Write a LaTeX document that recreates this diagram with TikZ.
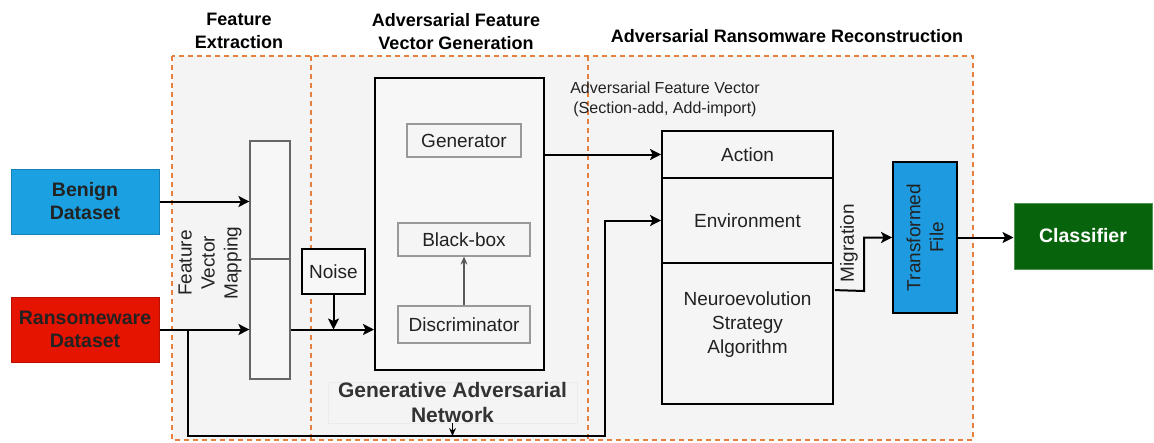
\documentclass[tikz,border=0pt]{standalone}
\usepackage{fontspec}
\setmainfont{Liberation Sans}
\usetikzlibrary{arrows.meta,calc}
\definecolor{panelbg}{HTML}{F4F4F4}
\definecolor{dashor}{HTML}{E5803F}
\definecolor{benignblue}{HTML}{1BA1E2}
\definecolor{ransred}{HTML}{E51400}
\definecolor{clsgreen}{HTML}{08640C}
\definecolor{tfblue}{HTML}{1E9BE0}
\definecolor{txtdark}{HTML}{222222}
\tikzset{
  arr/.style={line width=2pt,-{Stealth[length=11pt,width=11pt,inset=2.5pt]}},
  box/.style={draw,line width=1.8pt,minimum width=0pt,minimum height=0pt,inner sep=0pt},
  inbox/.style={draw=gray!80,line width=1.2pt,fill=white!96!black,text=txtdark,inner sep=0pt},
  body/.style={font=\fontsize{19}{24}\selectfont,align=center,text=txtdark},
  btxt/.style={font=\fontsize{19.5}{23}\selectfont\bfseries,align=center},
  ttl/.style={font=\fontsize{18}{23}\selectfont\bfseries,align=center,text=black},
  panel/.style={draw=dashor,line width=1.8pt,dash pattern=on 5pt off 4pt}
}
\begin{document}
\begin{tikzpicture}[x=1pt,y=-1pt]
\useasboundingbox (0,0) rectangle (1154,442);
% panel background and dashed frames
\fill[panelbg] (172,56) rectangle (973,440);
\draw[panel] (172,56) rectangle (973,440);
\draw[panel] (311,56) -- (311,440);
\draw[panel] (588,56) -- (588,440);
% titles
\node[ttl] (t1) at (239,31) {Feature\\Extraction};
\node[ttl] (t2) at (456,32) {Adversarial Feature\\Vector Generation};
\node[ttl] (t3) at (787,36) {Adversarial Ransomware Reconstruction};
% datasets
\node[box,draw=benignblue!80!black,line width=1pt,fill=benignblue,minimum width=148pt,minimum height=65pt,btxt,text=txtdark] (benign) at (85,201.5) {Benign\\Dataset};
\node[box,draw=ransred!80!black,line width=1pt,fill=ransred,minimum width=148pt,minimum height=65pt,btxt,text=txtdark] (ransom) at (85,329.5) {Ransomeware\\Dataset};
% feature vector mapping column
\node[draw=gray!80!black,line width=1.2pt,fill=white!97!black,minimum width=40pt,minimum height=238pt,inner sep=0pt] (fvm) at (270,260) {};
\draw[gray!80!black,line width=1.2pt] (fvm.west |- 0,259) -- (fvm.east |- 0,259);
\node[body,rotate=90,font=\fontsize{19}{23}\selectfont] (fvmlbl) at (210,263) {Feature\\Vector\\Mapping};
% noise
\node[box,fill=white!97!black,minimum width=63pt,minimum height=45pt,body] (noise) at (333.5,271.5) {Noise};
% GAN
\node[box,line width=2pt,fill=white!97!black,minimum width=169pt,minimum height=292pt] (gan) at (459.5,224) {};
\node[inbox,minimum width=114pt,minimum height=33pt,body] (gen) at (464,140.5) {Generator};
\node[inbox,minimum width=132pt,minimum height=33pt,body] (bb) at (464,239.5) {Black-box};
\node[inbox,minimum width=132pt,minimum height=37pt,body] (disc) at (464,324.5) {Discriminator};
\draw[gray!70!black,line width=1.2pt,-{Stealth[length=8pt,width=7pt]}] (disc.north) -- (bb.south);
\node[draw=black!8,line width=0.8pt,minimum width=249pt,minimum height=41pt,inner sep=0pt,font=\fontsize{21}{25}\selectfont\bfseries,align=center,text=black!80] (ganlbl) at (452.5,402.5) {Generative Adversarial\\Network};
% reconstruction stack
\node[box,fill=white!96!black,minimum width=171pt,minimum height=47pt,body] (action) at (747.5,154.5) {Action};
\node[box,fill=white!96!black,minimum width=171pt,minimum height=85pt,body] (env) at (747.5,220.5) {Environment};
\node[box,fill=white!96!black,minimum width=171pt,minimum height=141pt,body] (nsa) at (747.5,333.5) {};
\node[body,anchor=north] (nsatxt) at (747.5,288) {Neuroevolution\\Strategy\\Algorithm};
\node[font=\fontsize{16}{20}\selectfont,align=center,text=txtdark] (afv) at (665,99) {Adversarial Feature Vector\\(Section-add, Add-import)};
% transformed file and classifier
\node[box,line width=1.8pt,fill=tfblue,minimum width=64pt,minimum height=151pt] (tf) at (925,237.5) {};
\node[body,rotate=90,font=\fontsize{19}{23}\selectfont] (tftxt) at (925,237.5) {Transformed\\File};
\node[box,draw=clsgreen!70!white,line width=1pt,fill=clsgreen,minimum width=138pt,minimum height=66pt,btxt,text=white] (cls) at (1083,236) {Classifier};
\node[body,rotate=90] (mig) at (849,243) {Migration};
% connectors
\coordinate (b1) at (benign.east);
\draw[arr] (benign.east) -- (b1 -| fvm.west);
\draw[arr] (ransom.east) -- (ransom.east -| fvm.west);
\coordinate (r1) at (ransom.east -| fvm.east);
\draw[arr] (r1) -- (r1 -| gan.west);
\coordinate (n1) at (noise.south |- ransom.east);
\draw[arr] (noise.south) -- (n1);
\coordinate (g1) at (gan.east |- action.west);
\draw[arr] (g1) -- (action.west);
% feedback loop
\coordinate (f0) at (188,329.5);
\coordinate (f1) at (188,436);
\coordinate (f2) at (605,436);
\coordinate (f3) at (605,220.5);
\draw[arr] (f0) -- (f1) -- (f2) -- (f3) -- (env.west);
\coordinate (f4) at (ganlbl.south |- f1);
\draw[line width=1pt,-{Stealth[length=8pt,width=7pt]}] (ganlbl.south) -- (f4);
% migration
\coordinate (m0) at ($(nsa.north east)+(1,28)$);
\coordinate (m1) at (864,291);
\coordinate (m2) at (864,237.5);
\draw[arr] (m0) -- (m1) -- (m2) -- (tf.west);
\coordinate (c1) at (tf.east);
\draw[arr] (tf.east) -- (c1 -| cls.west);
\end{tikzpicture}
\end{document}
